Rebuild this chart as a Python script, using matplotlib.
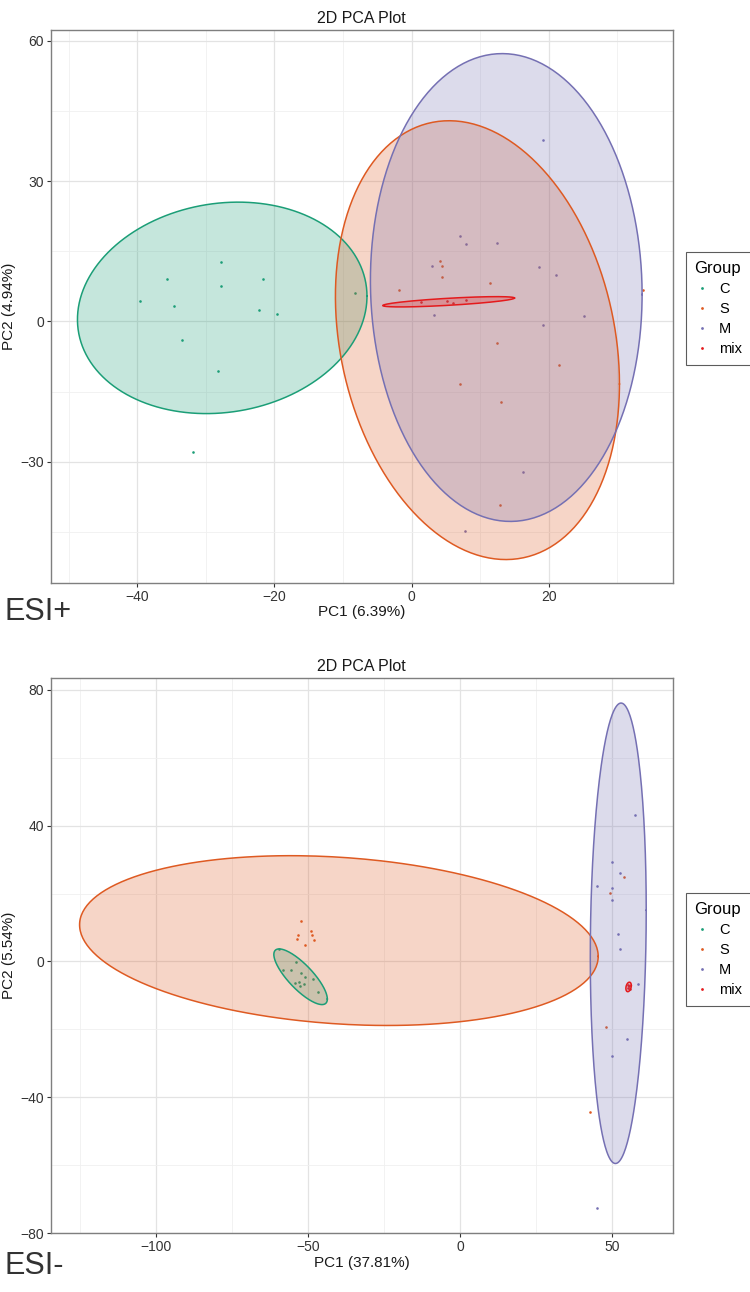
import matplotlib
matplotlib.use("Agg")
import matplotlib.pyplot as plt
import numpy as np
from matplotlib.lines import Line2D

plt.rcParams['font.family'] = ['Liberation Sans', 'DejaVu Sans']

groups = ["C", "S", "M", "mix"]
colors = {"C": "#1B9E77", "S": "#DE5A22", "M": "#7570B3", "mix": "#E41A1C"}

# ---- ESI+ scores ----
pos_C_x = [-27.8, -35.6, -21.7, -27.8, -39.6, -34.7, -22.2, -19.6, -33.4, -28.2, -31.9, -8.2]
pos_C_y = [12.7, 9.0, 9.0, 7.5, 4.3, 3.3, 2.5, 1.6, -3.9, -10.5, -28.0, 6.0]
pos_S_x = [4.2, 4.5, 4.4, 11.5, -1.9, 33.7, 12.4, 21.5, 7.0, 13.0, 12.9]
pos_S_y = [12.9, 11.8, 9.6, 8.3, 6.8, 6.8, -4.6, -9.3, -13.4, -17.2, -39.3]
pos_M_x = [19.1, 7.1, 7.9, 12.5, 3.0, 18.5, 21.0, 3.2, 25.2, 19.2, 16.2, 7.8]
pos_M_y = [38.8, 18.3, 16.6, 16.8, 11.8, 11.7, 10.0, 1.3, 1.2, -0.7, -32.2, -44.9]
pos_mix_x = [1.4, 5.2, 6.0, 7.9]
pos_mix_y = [4.1, 4.3, 4.0, 4.6]
# ellipse: centre x, centre y, half width, half height, correlation
pos_ell = {"C": (-27.6, 2.9, 21.1, 22.6, 0.11),
           "S": (9.6, -4.0, 20.7, 46.9, -0.2),
           "M": (13.8, 7.25, 19.8, 50.0, -0.03),
           "mix": (5.4, 4.2, 9.6, 1.1, 0.73)}

# ---- ESI- scores ----
neg_C_x = [-54.0, -58.2, -55.4, -52.2, -50.9, -48.4, -53.0, -54.1, -51.4, -52.5, -46.8, -59.6]
neg_C_y = [-0.1, -2.6, -2.6, -3.5, -4.6, -5.2, -6.0, -6.3, -6.5, -7.3, -9.1, 3.8]
neg_S_x = [-52.4, -48.9, -53.3, -48.6, -53.7, -48.0, -51.0, 53.9, 49.5, 48.2, 42.7]
neg_S_y = [11.8, 9.1, 7.7, 7.7, 6.7, 6.4, 4.9, 25.0, 20.2, -19.2, -44.3]
neg_M_x = [57.7, 50.0, 52.6, 45.0, 50.0, 50.1, 52.0, 52.6, 58.6, 54.9, 50.2, 45.0]
neg_M_y = [43.1, 29.4, 26.1, 22.1, 21.6, 18.0, 8.0, 3.7, -6.6, -22.9, -27.7, -72.7]
neg_mix_x = [55.2, 55.8, 55.4, 55.7]
neg_mix_y = [-7.0, -8.0, -7.8, -7.2]
neg_ell = {"C": (-52.4, -4.5, 8.8, 8.2, -0.8),
           "S": (-39.8, 6.15, 85.3, 25.0, -0.186),
           "M": (52.1, 8.3, 9.2, 67.8, 0.1),
           "mix": (55.5, -7.5, 0.9, 1.4, 0.3)}


def ellipse_xy(cx, cy, hx, hy, rho, n=300):
    t = np.linspace(0, 2 * np.pi, n)
    x = cx + hx * np.cos(t)
    y = cy + hy * (rho * np.cos(t) + np.sqrt(1 - rho ** 2) * np.sin(t))
    return x, y


def pca_panel(ax, pts, ell, xlim, ylim, xmaj, xmin, ymaj, ymin, xlabel, ylabel):
    ax.set_xlim(*xlim)
    ax.set_ylim(*ylim)
    ax.set_xticks(xmaj)
    ax.set_xticks(xmin, minor=True)
    ax.set_yticks(ymaj)
    ax.set_yticks(ymin, minor=True)
    ax.grid(which='major', color='#E3E3E3', linewidth=0.9)
    ax.grid(which='minor', color='#F0F0F0', linewidth=0.6)
    ax.set_axisbelow(True)
    ax.tick_params(which='minor', length=0)
    ax.tick_params(which='major', length=3, width=0.8, color='#333333',
                   labelsize=10, labelcolor='#333333', pad=2)
    for s in ax.spines.values():
        s.set_color('#7F7F7F')
        s.set_linewidth(1.0)
    for g in groups:
        x, y = pts[g]
        ax.scatter(x, y, s=3.5, color=colors[g], linewidths=0, zorder=2)
    for g in groups:
        ex, ey = ellipse_xy(*ell[g])
        ax.fill(ex, ey, color=colors[g], alpha=0.25, linewidth=0, zorder=3)
        ax.plot(ex, ey, color=colors[g], linewidth=1.1, zorder=4)
    ax.set_title("2D PCA Plot", fontsize=11.5, pad=5, color='#1A1A1A')
    ax.set_xlabel(xlabel, fontsize=11, labelpad=1, color='#1A1A1A')
    ax.set_ylabel(ylabel, fontsize=11, labelpad=3, color='#1A1A1A')


fig = plt.figure(figsize=(7.5, 12.92), dpi=100)

ax1 = fig.add_axes([0.0676, 0.5488, 0.8297, 0.4280])
pca_panel(ax1,
          {"C": (pos_C_x, pos_C_y), "S": (pos_S_x, pos_S_y),
           "M": (pos_M_x, pos_M_y), "mix": (pos_mix_x, pos_mix_y)},
          pos_ell, (-52.6, 38.1), (-55.9, 62.3),
          [-40, -20, 0, 20], [-50, -30, -10, 10, 30],
          [-30, 0, 30, 60], [-45, -15, 15, 45],
          "PC1 (6.39%)", "PC2 (4.94%)")

ax2 = fig.add_axes([0.0676, 0.0453, 0.8297, 0.4300])
pca_panel(ax2,
          {"C": (neg_C_x, neg_C_y), "S": (neg_S_x, neg_S_y),
           "M": (neg_M_x, neg_M_y), "mix": (neg_mix_x, neg_mix_y)},
          neg_ell, (-134.6, 70.1), (-80.1, 83.5),
          [-100, -50, 0, 50], [-125, -75, -25, 25],
          [-80, -40, 0, 40, 80], [-60, -20, 20, 60],
          "PC1 (37.81%)", "PC2 (5.54%)")

handles = [Line2D([], [], marker='o', linestyle='', markersize=2.0,
                  markerfacecolor=colors[g], markeredgewidth=0, label=g)
           for g in groups]
for top in (0.805, 0.309):
    leg = fig.legend(handles=handles, title="Group", loc='upper left',
                     bbox_to_anchor=(0.914, top), borderaxespad=0,
                     fontsize=10.5, title_fontsize=12,
                     frameon=True, fancybox=False, borderpad=0.6,
                     handlelength=1.0, handletextpad=0.7, labelspacing=0.42)
    leg.get_frame().set_edgecolor('#333333')
    leg.get_frame().set_linewidth(0.8)
    leg._legend_box.align = "left"

fig.text(0.006, 0.526, "ESI+", fontsize=22, color='#333333', va='center', ha='left')
fig.text(0.006, 0.020, "ESI-", fontsize=22, color='#333333', va='center', ha='left')

fig.savefig("out.png", dpi=100)
